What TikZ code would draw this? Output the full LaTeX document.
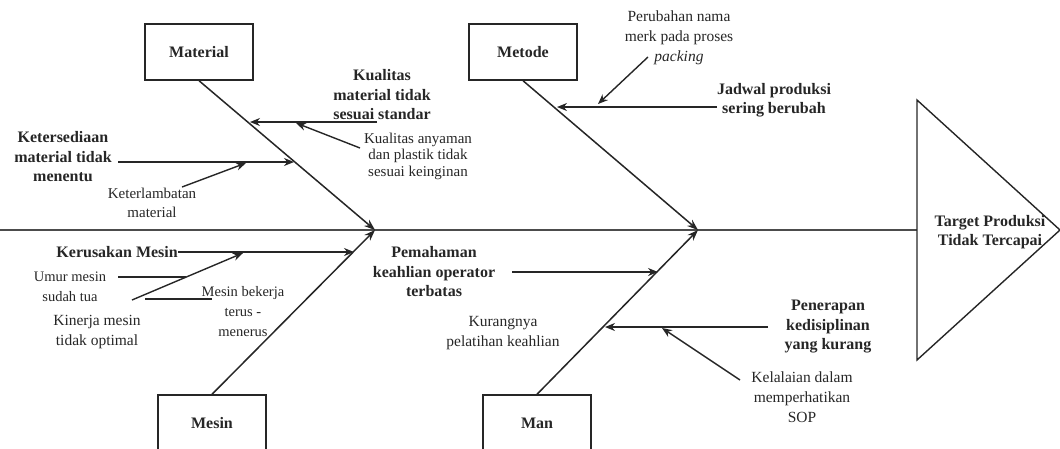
\documentclass[tikz,border=0pt]{standalone}
\usepackage{fontspec}
\setmainfont{Liberation Serif}
\usetikzlibrary{arrows.meta}

\begin{document}
\begin{tikzpicture}[
			x=1pt, y=-1pt,
			kotak/.style={draw, line width=1.4pt, minimum width=108pt, minimum height=56pt, font=\bfseries\fontsize{16}{19}\selectfont},
			tebal/.style={align=center, inner sep=0pt, font=\bfseries\fontsize{16}{19.5}\selectfont},
			biasa/.style={align=center, inner sep=0pt, font=\fontsize{15.5}{20}\selectfont},
			kecil/.style={align=center, inner sep=0pt, font=\fontsize{14.5}{20}\selectfont},
			tulang/.style={line width=1.5pt, -{Stealth[length=11pt,width=8pt]}},
			panah/.style={line width=1.4pt, -{Stealth[length=10pt,width=8pt]}},
			garis/.style={line width=1.4pt},
			black!85
			]
			\useasboundingbox (0,0) rectangle (1060,448);
			% --- kepala dan tulang punggung ---
			\coordinate (ekor) at (0,230);
			\coordinate (t1) at (375,230);
			\coordinate (t2) at (698,230);
			\coordinate (k1) at (917,100);
			\coordinate (k2) at (1060,230);
			\coordinate (k3) at (917,360);
			\coordinate (k4) at (917,230);
			\draw[garis, line width=2pt, black!70] (ekor) -- (k4);
			\draw[garis] (k1) -- (k2) -- (k3) -- cycle;
			\node[tebal] (akibat) at (990,232) {Target Produksi\\Tidak Tercapai};
			% --- kategori ---
			\node[kotak] (mat) at (199,52) {Material};
			\node[kotak] (met) at (523,52) {Metode};
			\node[kotak] (mes) at (212,423) {Mesin};
			\node[kotak] (man) at (537,423) {Man};
			\draw[tulang] (mat.south) -- (t1);
			\draw[tulang] (mes.north) -- (t1);
			\draw[tulang] (met.south) -- (t2);
			\draw[tulang] (man.north) -- (t2);
			% --- material ---
			\node[tebal] (kmat) at (382,95) {Kualitas\\material tidak\\sesuai standar};
			\node[biasa, font=\fontsize{15}{16.5}\selectfont] (kany) at (418,156) {Kualitas anyaman\\dan plastik tidak\\sesuai keinginan};
			\node[tebal] (ket) at (63,157) {Ketersediaan\\material tidak\\menentu};
			\node[biasa, font=\fontsize{15}{19}\selectfont] (tlb) at (152,203) {Keterlambatan\\material};
			\coordinate (a1) at (377,122); \coordinate (b1) at (250,122);
			\coordinate (a2) at (360,148); \coordinate (b2) at (296,123);
			\coordinate (a3) at (118,162); \coordinate (b3) at (294,162);
			\coordinate (a4) at (182,187); \coordinate (b4) at (246,163);
			\draw[panah] (a1) -- (b1);
			\draw[panah] (a2) -- (b2);
			\draw[panah] (a3) -- (b3);
			\draw[panah] (a4) -- (b4);
			% --- metode ---
			\node[tebal] (jad) at (774,100) {Jadwal produksi\\sering berubah};
			\node[biasa] (prb) at (679,38) {Perubahan nama\\merk pada proses\\\textit{packing}};
			\coordinate (a5) at (717,107); \coordinate (b5) at (557,107);
			\coordinate (a6) at (648,57); \coordinate (b6) at (598,104);
			\draw[panah] (a5) -- (b5);
			\draw[panah] (a6) -- (b6);
			% --- mesin ---
			\node[tebal, anchor=east] (krs) at (178,252) {Kerusakan Mesin};
			\node[kecil] (umr) at (70,287) {Umur mesin\\sudah tua};
			\node[biasa] (kin) at (97,332) {Kinerja mesin\\tidak optimal};
			\node[kecil] (mbk) at (243,312) {Mesin bekerja\\terus -\\menerus};
			\coordinate (b7) at (354,252);
			\coordinate (a8) at (132,300); \coordinate (b8) at (243,253);
			\coordinate (a9) at (118,277); \coordinate (b9) at (186,277);
			\coordinate (a10) at (145,299); \coordinate (b10) at (212,299);
			\draw[panah] (krs.east) -- (b7);
			\draw[panah] (a8) -- (b8);
			\draw[garis] (a9) -- (b9);
			\draw[garis] (a10) -- (b10);
			% --- man ---
			\node[tebal] (pmh) at (434,272) {Pemahaman\\keahlian operator\\terbatas};
			\node[tebal] (pnr) at (828,327) {Penerapan\\kedisiplinan\\yang kurang};
			\node[biasa] (kll) at (802,397) {Kelalaian dalam\\memperhatikan\\SOP};
			\node[biasa] (krg) at (503,333) {Kurangnya\\pelatihan keahlian};
			\coordinate (a11) at (512,272); \coordinate (b11) at (658,272);
			\coordinate (a12) at (768,327); \coordinate (b12) at (605,327);
			\coordinate (a13) at (740,380); \coordinate (b13) at (662,328);
			\draw[panah] (a11) -- (b11);
			\draw[panah] (a12) -- (b12);
			\draw[panah] (a13) -- (b13);
		\end{tikzpicture}
\end{document}
